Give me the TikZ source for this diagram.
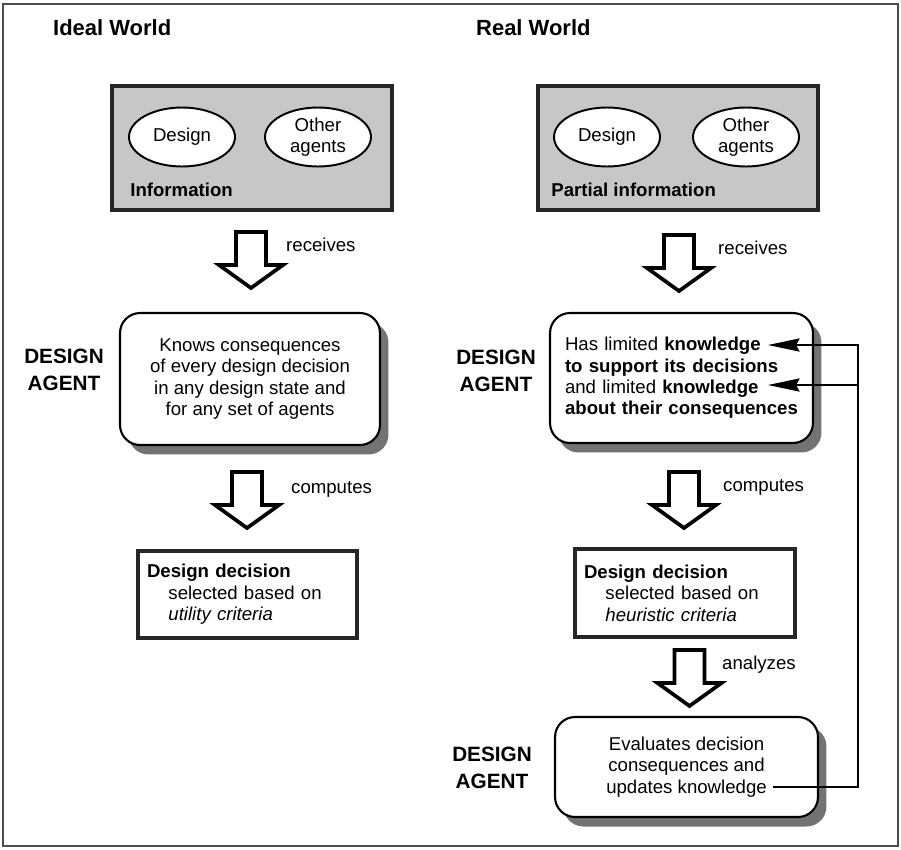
\documentclass[tikz,border=0pt]{standalone}
\usepackage{fontspec}
\setmainfont{Liberation Sans}
\usetikzlibrary{arrows.meta,positioning,shapes.geometric,shadows}
\tikzset{
    frame line/.style={draw=black!70,line width=0.9pt},
    info box/.style={draw=black!85,line width=1.8pt,fill=black!22,minimum width=5.6cm,minimum height=2.48cm,inner sep=0pt},
    info oval/.style={ellipse,draw=black,line width=1.1pt,fill=white,minimum width=2.12cm,minimum height=1.18cm,inner sep=0pt,align=center},
    agent box/.style={draw=black,line width=1.2pt,rounded corners=0.4cm,fill=white,
        drop shadow={shadow xshift=0.17cm,shadow yshift=-0.19cm,fill=black!55,opacity=1}},
    decision box/.style={draw=black!85,line width=1.8pt,fill=white,align=left,inner sep=0.18cm},
    agent label/.style={font=\fontsize{11.8}{15.5}\selectfont\bfseries,align=center},
    world label/.style={font=\fontsize{12.5}{15}\selectfont\bfseries,anchor=base west},
    verb label/.style={anchor=west},
    feedback/.style={draw=black,line width=0.9pt,-{Stealth[length=18pt,width=7.5pt,inset=2pt]}},
    hollow arrow/.pic={
        \draw[line width=2.1pt,fill=white,line join=miter]
            (-15,0) -- (-15,33) -- (-32,33) -- (0,56) -- (32,33) -- (15,33) -- (15,0) -- cycle;
    },
}
\tikzstyle{every node}=[font=\fontsize{10.6}{12.2}\selectfont]

\begin{document}
\begin{tikzpicture}[x=0.02cm,y=-0.02cm]
    \useasboundingbox (0,0) rectangle (901,849);
    \draw[frame line] (3,4) rectangle (898,846);

    % ideal world
    \node[world label] (idealtitle) at (47,35) {Ideal World};
    \node[info box] (info) at (252,148) {};
    \node[info oval] (design) at (182,137) {Design};
    \node[info oval] (others) at (318,137) {Other\\agents};
    \node[anchor=base west,font=\fontsize{10.6}{12.2}\selectfont\bfseries,inner sep=0pt] (infotext) at (130,196) {Information};

    \pic at (251,232) {hollow arrow};
    \node[verb label] (receives) at (280,245) {receives};

    \node[agent label] (agent) at (64,370) {DESIGN\\AGENT};
    \node[agent box,minimum width=5.2cm,minimum height=2.64cm,align=center] (knows) at (250,379)
        {Knows consequences\\of every design decision\\in any design state and\\for any set of agents};

    \pic at (247,472) {hollow arrow};
    \node[verb label] (computes) at (285,489) {computes};

    \node[decision box,text width=4.02cm,minimum height=1.74cm] (utility) at (247.5,594.5)
        {\textbf{Design decision}\\\hspace*{1.15em}selected based on\\\hspace*{1.15em}\textit{utility criteria}};

    % real world
    \node[world label] (realtitle) at (470,35) {Real World};
    \node[info box] (partial) at (678,148) {};
    \node[info oval] (rdesign) at (607,137) {Design};
    \node[info oval] (rothers) at (746,137) {Other\\agents};
    \node[anchor=base west,font=\fontsize{10.6}{12.2}\selectfont\bfseries,inner sep=0pt] (partialtext) at (551,196) {Partial information};

    \pic at (679,235) {hollow arrow};
    \node[verb label] (rreceives) at (712,248) {receives};

    \node[agent label] (ragent) at (496,371) {DESIGN\\AGENT};
    \node[agent box,text width=4.66cm,inner sep=0.3cm,minimum height=2.6cm,align=left] (limited) at (681.5,378)
        {Has limited \textbf{knowledge}\\\textbf{to support its decisions}\\and limited \textbf{knowledge}\\\textbf{about their consequences}};

    \pic at (684,472) {hollow arrow};
    \node[verb label] (rcomputes) at (717,487) {computes};

    \node[decision box,text width=4.04cm,minimum height=1.76cm] (heuristic) at (685,593)
        {\textbf{Design decision}\\\hspace*{1.15em}selected based on\\\hspace*{1.15em}\textit{heuristic criteria}};

    \pic at (689.5,650) {hollow arrow};
    \node[verb label] (analyzes) at (716,665) {analyzes};

    \node[agent label] (bagent) at (492,768) {DESIGN\\AGENT};
    \node[agent box,minimum width=5.26cm,minimum height=2cm,align=center] (evaluates) at (686.5,767)
        {Evaluates decision\\consequences and\\updates knowledge};

    % feedback
    \coordinate (fb) at (773,787);
    \coordinate (rail) at (858,345);
    \coordinate (k1) at (768,345);
    \coordinate (k2) at (768,385);
    \draw[feedback] (fb) -| (rail) -- (k1);
    \draw[feedback] (rail |- k2) -- (k2);
\end{tikzpicture}
\end{document}
